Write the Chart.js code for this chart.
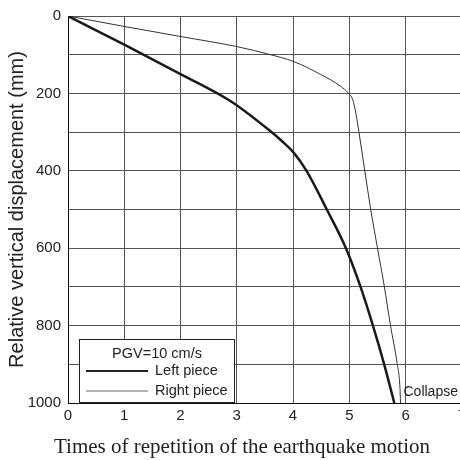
<!DOCTYPE html>
<html>
<head>
<meta charset="utf-8">
<script src="https://cdn.jsdelivr.net/npm/chart.js@4"></script>
<style>
  html, body { margin: 0; padding: 0; background: #fff; overflow: hidden; }
  #wrap { width: 470px; height: 460px; }
</style>
</head>
<body>
<div id="wrap"><canvas id="graph"></canvas></div>
<script>
var xTicks = [0, 1, 2, 3, 4, 5, 6, 7];
var yTicks = [0, 200, 400, 600, 800, 1000];

// times of repetition vs displacement (mm)
var leftX = [0, 1, 2, 2.9, 3.6, 3.8, 4, 4.24, 4.6, 4.94, 5.2, 5.42, 5.62, 5.8];
var leftY = [0, 74, 150, 221, 298, 323, 351, 400, 500, 600, 700, 800, 900, 1000];

var rightX = [0, 1, 2, 3, 3.6, 4, 4.49, 4.85, 4.98, 5.06, 5.12, 5.17, 5.38, 5.5, 5.62, 5.73, 5.85, 5.9, 5.91];
var rightY = [0, 27, 53, 79, 100, 117, 151, 182, 199, 216, 254, 299, 499, 599, 697, 798, 898, 960, 1000];

var pgvTitle = 'PGV=10 cm/s';
var collapseLabel = 'Collapse';
var xTitle = 'Times of repetition of the earthquake motion';

function toPoints(xs, ys) {
  return xs.map(function (x, i) { return { x: x, y: ys[i] }; });
}

// legend box inside the plot, the collapse note and the x title
var boxLegend = {
  id: 'boxLegend',
  afterDraw: function (chart) {
    var ctx = chart.ctx;
    var a = chart.chartArea;
    var x0 = Math.round(a.left) + 11, y0 = Math.round(a.top) + 323, w = 155, h = 63;
    ctx.save();
    ctx.fillStyle = '#fff';
    ctx.fillRect(x0, y0, w, h);
    ctx.strokeStyle = '#222';
    ctx.lineWidth = 1;
    ctx.strokeRect(x0 + 0.5, y0 + 0.5, w, h);
    ctx.fillStyle = '#222';
    ctx.font = '14.5px "Liberation Sans", Arial, sans-serif';
    ctx.textBaseline = 'middle';
    ctx.textAlign = 'center';
    ctx.fillText(pgvTitle, x0 + 78, y0 + 15);
    ctx.textAlign = 'left';
    chart.data.datasets.forEach(function (ds, i) {
      var ly = y0 + 32 + i * 20;
      ctx.strokeStyle = i === 0 ? '#222' : '#666';
      ctx.lineWidth = i === 0 ? 2 : 1;
      ctx.beginPath();
      ctx.moveTo(x0 + 7, ly);
      ctx.lineTo(x0 + 69, ly);
      ctx.stroke();
      ctx.fillText(ds.label, x0 + 76, ly);
    });
    var xs = chart.scales.x, ys = chart.scales.y;
    ctx.font = '14px "Liberation Sans", Arial, sans-serif';
    ctx.fillText(collapseLabel, xs.getPixelForValue(rightX[rightX.length - 1]) + 3, ys.getPixelForValue(1000) - 11);
    ctx.font = '21px "Liberation Serif", "Times New Roman", serif';
    ctx.textAlign = 'center';
    ctx.fillText(xTitle, 242, 447);
    ctx.restore();
  }
};

new Chart(document.getElementById('graph').getContext('2d'), {
  type: 'line',
  data: {
    datasets: [{
      label: 'Left piece',
      data: toPoints(leftX, leftY),
      borderColor: '#1a1a1a',
      borderWidth: 2.5,
      pointRadius: 0,
      cubicInterpolationMode: 'monotone',
      fill: false
    }, {
      label: 'Right piece',
      data: toPoints(rightX, rightY),
      borderColor: '#333',
      borderWidth: 1,
      pointRadius: 0,
      cubicInterpolationMode: 'monotone',
      fill: false
    }]
  },
  options: {
    responsive: true,
    maintainAspectRatio: false,
    animation: false,
    layout: { padding: { top: 10, bottom: 0, left: 0, right: 0 } },
    scales: {
      x: {
        type: 'linear',
        min: 0,
        max: 7,
        afterBuildTicks: function (s) { s.ticks = xTicks.map(function (v) { return { value: v }; }); },
        afterFit: function (s) { s.height = 57; },
        ticks: { color: '#222', font: { family: '"Liberation Sans", Arial', size: 15 }, padding: 4, maxRotation: 0 },
        grid: { color: '#555', lineWidth: 1, drawTicks: false },
        border: { color: '#111', width: 1 }
      },
      y: {
        type: 'linear',
        reverse: true,
        min: 0,
        max: 1000,
        afterFit: function (s) { s.width = 68; },
        ticks: {
          stepSize: 100,
          color: '#222',
          font: { family: '"Liberation Sans", Arial', size: 15 },
          padding: 7,
          callback: function (v) { return yTicks.indexOf(v) >= 0 ? v : ''; }
        },
        grid: { color: '#555', lineWidth: 1, drawTicks: false },
        border: { color: '#111', width: 1 },
        title: {
          display: true,
          text: 'Relative vertical displacement (mm)',
          color: '#222',
          font: { family: '"Liberation Sans", Arial', size: 20, lineHeight: 1.2 },
          padding: { top: 5, bottom: 0 }
        }
      }
    },
    plugins: {
      legend: { display: false },
      tooltip: { enabled: false }
    }
  },
  plugins: [boxLegend]
});
</script>
</body>
</html>
